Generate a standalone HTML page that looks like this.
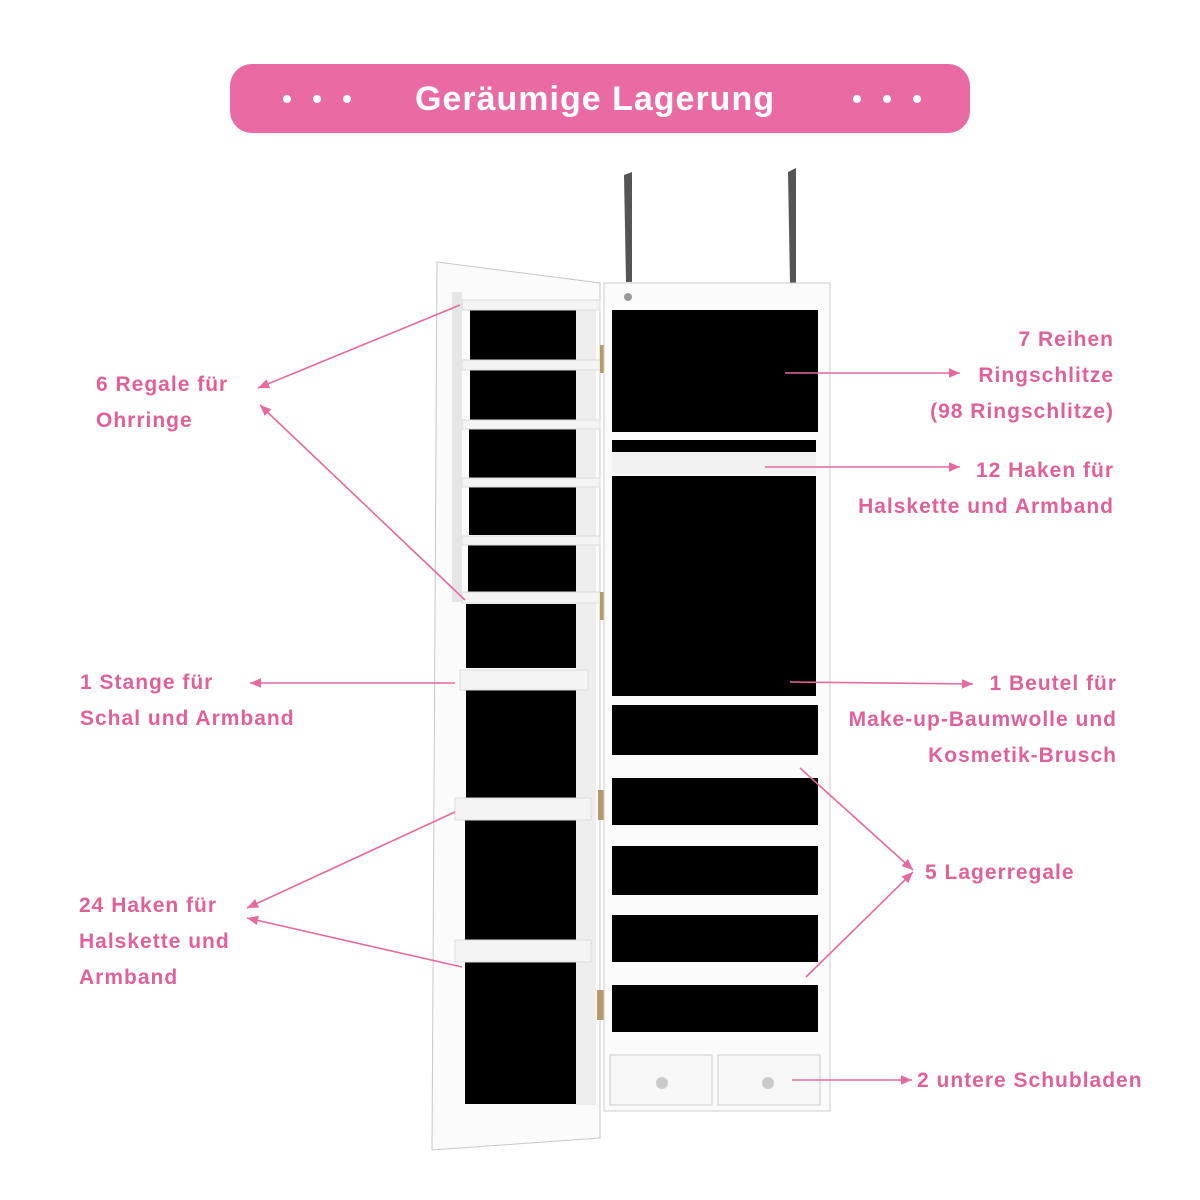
<!DOCTYPE html>
<html><head><meta charset="utf-8"><style>
html,body{margin:0;padding:0;background:#fff;}
svg{display:block}
text{font-family:"Liberation Sans",sans-serif;font-weight:bold;}
</style></head><body>
<svg width="1200" height="1200" viewBox="0 0 1200 1200">
<defs><marker id="a" markerWidth="8" markerHeight="8" refX="7" refY="4" orient="auto"><path d="M0,1 L7,4 L0,7 Z" fill="#e46aa0"/></marker></defs>
<rect x="230" y="64" width="740" height="69" rx="22" fill="#ea6aa3"/>
<text x="595" y="110" font-size="34" fill="#fff" text-anchor="middle" letter-spacing="1">Geräumige Lagerung</text>
<g fill="#fff"><circle cx="287" cy="99" r="4"/><circle cx="317" cy="99" r="4"/><circle cx="347" cy="99" r="4"/><circle cx="857" cy="99" r="4"/><circle cx="887" cy="99" r="4"/><circle cx="917" cy="99" r="4"/></g>
<path d="M624,175 L632,172 L632,282 L626,282 Z" fill="#555"/>
<path d="M788,172 L796,168 L796,284 L790,284 Z" fill="#555"/>
<path d="M437,262 L600,283 L600,1138 L432,1150 Z" fill="#fbfbfb" stroke="#c8c8c8"/>
<rect x="452" y="292" width="10" height="310" fill="#e6e6e6"/>
<g fill="#000">
<rect x="470" y="310" width="106" height="55"/>
<rect x="470" y="370" width="106" height="50"/>
<rect x="469" y="428" width="107" height="50"/>
<rect x="469" y="486" width="107" height="49"/>
<rect x="468" y="544" width="108" height="48"/>
<rect x="466" y="604" width="110" height="64"/>
<rect x="466" y="690" width="110" height="108"/>
<rect x="465" y="818" width="111" height="128"/>
<rect x="465" y="962" width="111" height="142"/>
</g>
<rect x="576" y="305" width="20" height="800" fill="#eee"/>
<g fill="#f4f4f4" stroke="#ddd">
<rect x="462" y="300" width="138" height="10"/>
<rect x="462" y="360" width="138" height="10"/>
<rect x="462" y="420" width="138" height="9"/>
<rect x="462" y="478" width="138" height="9"/>
<rect x="462" y="536" width="138" height="9"/>
<rect x="462" y="592" width="138" height="11"/>
<rect x="460" y="670" width="128" height="20"/>
<rect x="455" y="798" width="136" height="22"/>
<rect x="455" y="940" width="136" height="22"/>
</g>
<g fill="#b89a6a"><rect x="600" y="345" width="10" height="28"/><rect x="600" y="592" width="10" height="28"/><rect x="598" y="790" width="10" height="30"/><rect x="597" y="990" width="10" height="30"/></g>
<rect x="604" y="283" width="226" height="828" fill="#fbfbfb" stroke="#ccc"/>
<circle cx="628" cy="297" r="4" fill="#999"/>
<g fill="#000">
<rect x="612" y="310" width="206" height="122"/>
<rect x="612" y="440" width="204" height="12"/>
<rect x="612" y="476" width="204" height="220"/>
<rect x="612" y="705" width="206" height="50"/>
<rect x="612" y="778" width="206" height="47"/>
<rect x="612" y="846" width="206" height="49"/>
<rect x="612" y="915" width="206" height="47"/>
<rect x="612" y="985" width="206" height="47"/>
</g>
<rect x="612" y="452" width="204" height="22" fill="#f2f2f2"/>
<g fill="#f8f8f8" stroke="#ccc"><rect x="610" y="1055" width="102" height="50"/><rect x="718" y="1055" width="102" height="50"/></g>
<circle cx="662" cy="1083" r="6" fill="#ccc"/><circle cx="768" cy="1083" r="6" fill="#ccc"/>
<g stroke="#e46aa0" stroke-width="1.6" fill="none" marker-end="url(#a)">
<line x1="460" y1="305" x2="258" y2="388"/>
<line x1="465" y1="600" x2="260" y2="405"/>
<line x1="455" y1="683" x2="250" y2="683"/>
<line x1="455" y1="812" x2="247" y2="908"/>
<line x1="462" y1="967" x2="247" y2="918"/>
<line x1="785" y1="373" x2="960" y2="373"/>
<line x1="765" y1="467" x2="960" y2="467"/>
<line x1="790" y1="682" x2="973" y2="684"/>
<line x1="800" y1="768" x2="913" y2="870"/>
<line x1="806" y1="977" x2="913" y2="872"/>
<line x1="792" y1="1080" x2="912" y2="1080"/>
</g>
<g fill="#e0609a" font-size="21" letter-spacing="1">
<text x="96" y="391">6 Regale für</text>
<text x="96" y="427">Ohrringe</text>
<text x="80" y="689">1 Stange für</text>
<text x="80" y="725">Schal und Armband</text>
<text x="79" y="912">24 Haken für</text>
<text x="79" y="948">Halskette und</text>
<text x="79" y="984">Armband</text>
<g text-anchor="end">
<text x="1114" y="346">7 Reihen</text>
<text x="1114" y="382">Ringschlitze</text>
<text x="1114" y="418">(98 Ringschlitze)</text>
<text x="1114" y="477">12 Haken für</text>
<text x="1114" y="513">Halskette und Armband</text>
<text x="1117" y="690">1 Beutel für</text>
<text x="1117" y="726">Make-up-Baumwolle und</text>
<text x="1117" y="762">Kosmetik-Brusch</text>
</g>
<text x="925" y="879">5 Lagerregale</text>
<text x="917" y="1087">2 untere Schubladen</text>
</g>
</svg>
</body></html>
